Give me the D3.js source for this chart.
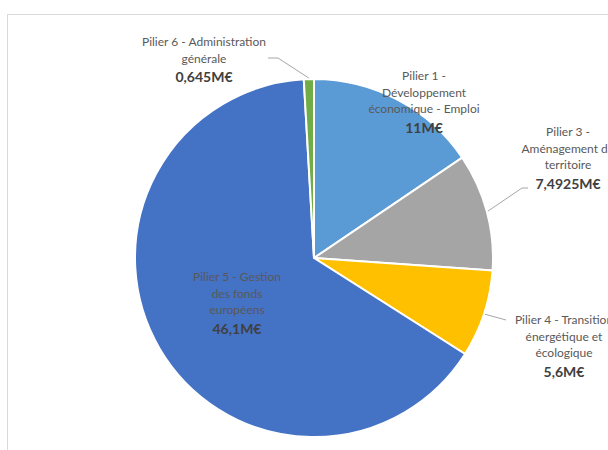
<!DOCTYPE html>
<html lang="fr">
<head>
<meta charset="UTF-8">
<title>Répartition par pilier</title>
<script src="https://d3js.org/d3.v7.min.js"></script>
<style>
    body { margin: 0; background: #fff; }
    svg { display: block; font-family: Lato, "Open Sans", sans-serif; }
</style>
</head>
<body>
<svg width="608" height="450"></svg>
<script>
    // données
    const names = [
        ["Pilier 1 -", "Développement", "économique - Emploi"],
        ["Pilier 3 -", "Aménagement du", "territoire"],
        ["Pilier 4 - Transition", "énergétique et", "écologique"],
        ["Pilier 5 - Gestion", "des fonds", "européens"],
        ["Pilier 6 - Administration", "générale"]
    ];
    const values = [11, 7.4925, 5.6, 46.1, 0.645];
    const valueLabels = ["11M€", "7,4925M€", "5,6M€", "46,1M€", "0,645M€"];
    const colors = ["#5B9BD5", "#A5A5A5", "#FFC000", "#4472C4", "#70AD47"];

    // placement des étiquettes (centre x, y de la 1re ligne), posé à la main comme dans Excel
    const labelPos = [[424, 77], [568, 133], [564, 321], [237, 278], [204, 43]];
    // coudes des lignes de repère
    const leaderPts = [null, [[522, 188], [528, 188]], [[506, 320]], null, [[278, 58], [268, 58]]];

    const cx = 314, cy = 258, r = 179;
    const lineH = 16.5;

    const svg = d3.select("svg");

    // cadre gris du graphique
    svg.append("rect")
        .attr("x", 7.5).attr("y", 14.5)
        .attr("width", 640).attr("height", 480)
        .attr("fill", "#fff")
        .attr("stroke", "#d9d9d9");

    const pie = d3.pie().sort(null).value(d => d);
    const arcs = pie(values);
    const arc = d3.arc().innerRadius(0).outerRadius(r);

    const g = svg.append("g").attr("transform", `translate(${cx},${cy})`);

    g.selectAll("path")
        .data(arcs)
        .join("path")
        .attr("d", arc)
        .attr("fill", (d, i) => colors[i])
        .attr("stroke", "#fff")
        .attr("stroke-width", 2)
        .attr("stroke-linejoin", "round");

    // lignes de repère
    const outer = d3.arc().innerRadius(r + 1).outerRadius(r + 1);
    arcs.forEach((a, i) => {
        if (!leaderPts[i]) return;
        const c = outer.centroid(a);
        const pts = [[cx + c[0], cy + c[1]]].concat(leaderPts[i]);
        svg.append("path")
            .attr("d", d3.line()(pts))
            .attr("fill", "none")
            .attr("stroke", "#a6a6a6")
            .attr("stroke-width", 1);
    });

    // étiquettes
    arcs.forEach((a, i) => {
        const [x, y] = labelPos[i];
        const t = svg.append("text")
            .attr("text-anchor", "middle")
            .attr("dominant-baseline", "middle");
        names[i].forEach((s, k) => {
            t.append("tspan")
                .attr("x", x).attr("y", y + k * lineH)
                .attr("font-size", 12)
                .attr("fill", "#595959")
                .text(s);
        });
        t.append("tspan")
            .attr("x", x).attr("y", y + names[i].length * lineH + 2)
            .attr("font-size", 14)
            .attr("font-weight", "bold")
            .attr("fill", "#404040")
            .text(valueLabels[i]);
    });
</script>
</body>
</html>
